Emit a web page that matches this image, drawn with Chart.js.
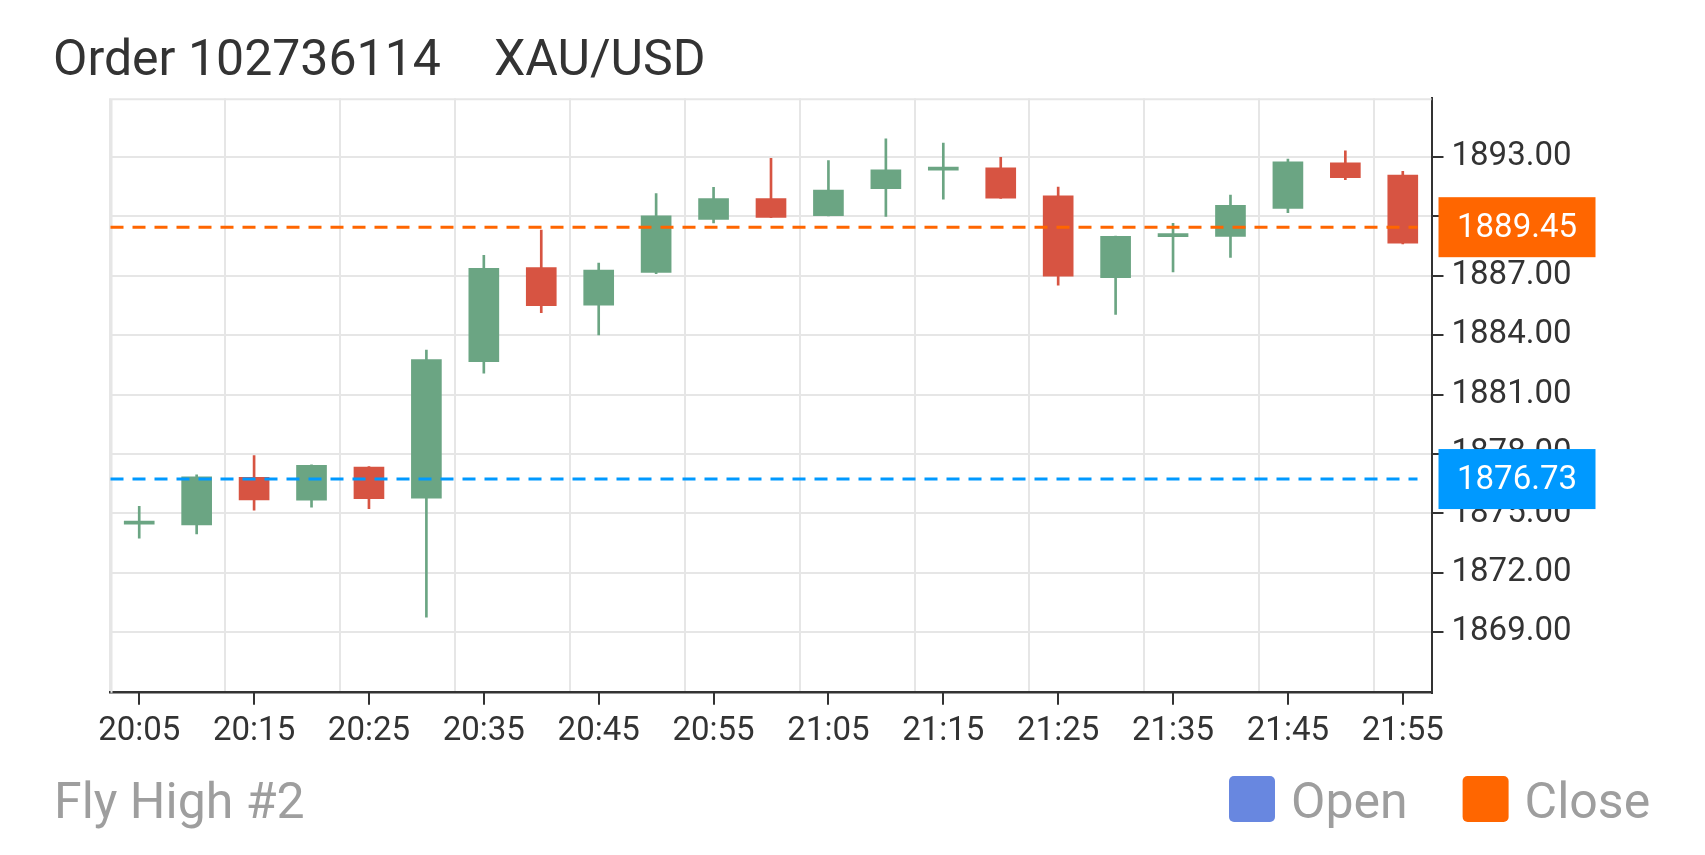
<!DOCTYPE html>
<html>
<head>
<meta charset="utf-8">
<title>Order 102736114 XAU/USD</title>
<script src="https://cdn.jsdelivr.net/npm/chart.js@4.4.1/dist/chart.umd.min.js"></script>
<style>
  html, body { margin: 0; padding: 0; background: #fff; }
  #wrap { width: 1705px; height: 855px; }
</style>
</head>
<body>
<div id="wrap"><canvas id="candles" width="1705" height="855"></canvas></div>
<script>
// 5 minute candles, XAU/USD
const times = ['20:05', '20:10', '20:15', '20:20', '20:25', '20:30', '20:35', '20:40', '20:45', '20:50', '20:55', '21:00',
               '21:05', '21:10', '21:15', '21:20', '21:25', '21:30', '21:35', '21:40', '21:45', '21:50', '21:55'];
const opens  = [1874.45, 1874.41, 1876.82, 1875.66, 1877.34, 1875.77, 1882.66, 1887.41, 1885.51, 1887.17, 1889.84, 1890.90,
                1890.03, 1891.39, 1892.33, 1892.45, 1891.04, 1886.90, 1888.97, 1888.99, 1890.40, 1892.70, 1892.08];
const closes = [1874.48, 1876.84, 1875.68, 1877.42, 1875.74, 1882.77, 1887.37, 1885.49, 1887.29, 1890.03, 1890.90, 1889.95,
                1891.32, 1892.35, 1892.36, 1890.92, 1886.98, 1888.99, 1889.00, 1890.55, 1892.75, 1891.95, 1888.64];
const highs  = [1875.35, 1876.94, 1877.92, 1877.45, 1877.36, 1883.24, 1888.03, 1889.30, 1887.64, 1891.15, 1891.46, 1892.93,
                1892.81, 1893.91, 1893.70, 1892.98, 1891.48, 1889.00, 1889.64, 1891.07, 1892.89, 1893.31, 1892.27];
const lows   = [1873.75, 1873.96, 1875.16, 1875.31, 1875.24, 1869.76, 1882.08, 1885.13, 1884.01, 1887.10, 1889.67, 1889.93,
                1890.02, 1889.99, 1890.86, 1890.90, 1886.52, 1885.05, 1887.19, 1887.93, 1890.18, 1891.85, 1888.60];
const priceTicks = [1869, 1872, 1875, 1878, 1881, 1884, 1887, 1890, 1893];

const openPrice = 1876.73;
const closePrice = 1889.45;
const orderTitle = 'Order 102736114';
const symbol = 'XAU/USD';
const footerText = 'Fly High #2';
const legendLabels = ['Open', 'Close'];

const UP = '#6ba583';
const DOWN = '#d75442';
const OPEN_COLOR = '#0099ff';
const CLOSE_COLOR = '#ff6600';
const LEGEND_COLORS = ['#6887e0', '#ff6600'];
const GRID = '#e6e6e6';
const DARK = '#333333';
const FONT = 'Roboto';

const candleColors = opens.map((o, i) => closes[i] >= o ? UP : DOWN);

function priceTag(ctx, area, y, price, color) {
    const py = y.getPixelForValue(price);
    ctx.fillStyle = color;
    ctx.fillRect(area.right + 7, py - 30, 157, 60);
    ctx.fillStyle = '#fff';
    ctx.font = '33px ' + FONT;
    ctx.textAlign = 'center';
    ctx.textBaseline = 'middle';
    ctx.fillText(price.toFixed(2), area.right + 7 + 78.5, py + 2);
}

function dashLine(ctx, area, y, price, color) {
    const py = y.getPixelForValue(price);
    ctx.save();
    ctx.strokeStyle = color;
    ctx.lineWidth = 3;
    ctx.setLineDash([13, 9]);
    ctx.beginPath();
    ctx.moveTo(area.left, py);
    ctx.lineTo(area.right - 14, py);
    ctx.stroke();
    ctx.restore();
}

const orderPlugin = {
    id: 'orderPlugin',
    beforeDatasetsDraw(chart) {
        const { ctx, chartArea: a } = chart;
        ctx.save();
        ctx.strokeStyle = GRID;
        ctx.lineWidth = 2;
        ctx.beginPath();
        ctx.moveTo(a.left + 1, a.bottom);
        ctx.lineTo(a.left + 1, a.top + 1);
        ctx.lineTo(a.right, a.top + 1);
        ctx.stroke();
        ctx.restore();
    },
    afterDatasetsDraw(chart) {
        const { ctx, chartArea: a, scales } = chart;
        dashLine(ctx, a, scales.y, closePrice, CLOSE_COLOR);
        dashLine(ctx, a, scales.y, openPrice, OPEN_COLOR);
    },
    afterDraw(chart) {
        const { ctx, chartArea: a, scales } = chart;
        ctx.save();

        // tick marks under the labelled candles
        ctx.strokeStyle = DARK;
        ctx.lineWidth = 2;
        scales.x.ticks.forEach((t, i) => {
            if (i % 2 !== 0) return;
            const px = Math.round(scales.x.getPixelForTick(i));
            ctx.beginPath();
            ctx.moveTo(px, a.bottom);
            ctx.lineTo(px, a.bottom + 12);
            ctx.stroke();
        });

        priceTag(ctx, a, scales.y, closePrice, CLOSE_COLOR);
        priceTag(ctx, a, scales.y, openPrice, OPEN_COLOR);

        // header
        ctx.textAlign = 'left';
        ctx.textBaseline = 'alphabetic';
        ctx.fillStyle = DARK;
        ctx.font = '50px ' + FONT;
        ctx.fillText(orderTitle, 53, 74.5);
        ctx.fillText(symbol, 494, 74.5);

        // footer + legend
        ctx.fillStyle = '#9e9e9e';
        ctx.fillText(footerText, 54, 818);
        let x = 1229;
        legendLabels.forEach((label, i) => {
            ctx.fillStyle = LEGEND_COLORS[i];
            ctx.beginPath();
            ctx.roundRect(x, 776, 46, 46, 5);
            ctx.fill();
            ctx.fillStyle = '#9e9e9e';
            ctx.fillText(label, x + 62, 818);
            x += 62 + ctx.measureText(label).width + 55;
        });
        ctx.restore();
    }
};

function drawChart() {
    const ctx = document.getElementById('candles').getContext('2d');
    new Chart(ctx, {
        type: 'bar',
        data: {
            labels: times,
            datasets: [
                {
                    label: 'body',
                    data: opens.map((o, i) => [o, closes[i]]),
                    backgroundColor: candleColors,
                    barThickness: 30,
                    minBarLength: 3,
                    grouped: false
                },
                {
                    label: 'wick',
                    data: lows.map((l, i) => [l, highs[i]]),
                    backgroundColor: candleColors,
                    barThickness: 2,
                    grouped: false
                }
            ]
        },
        options: {
            responsive: false,
            animation: false,
            layout: { padding: { left: 110.5, top: 98.3, right: 0, bottom: 102.3 } },
            plugins: {
                legend: { display: false },
                title: { display: false },
                tooltip: { enabled: false }
            },
            scales: {
                x: {
                    offset: true,
                    afterFit: s => { s.height = 60; },
                    grid: {
                        offset: true,
                        drawTicks: false,
                        lineWidth: 2,
                        color: c => (c.index % 2 === 0 ? GRID : 'transparent')
                    },
                    border: { color: DARK, width: 2.5 },
                    ticks: {
                        autoSkip: false,
                        maxRotation: 0,
                        padding: 19,
                        color: DARK,
                        font: { family: FONT, size: 33 },
                        callback: function (value, index) {
                            return index % 2 === 0 ? this.getLabelForValue(value) : '';
                        }
                    }
                },
                y: {
                    position: 'right',
                    min: 1865.94,
                    max: 1895.96,
                    beginAtZero: false,
                    afterBuildTicks: s => { s.ticks = priceTicks.map(v => ({ value: v })); },
                    afterFit: s => { s.width = 273.5; },
                    grid: {
                        color: GRID,
                        lineWidth: 2,
                        tickColor: DARK,
                        tickWidth: 2,
                        tickLength: 12
                    },
                    border: { color: DARK, width: 2 },
                    ticks: {
                        padding: 8,
                        color: DARK,
                        font: { family: FONT, size: 33 },
                        callback: v => Number(v).toFixed(2)
                    }
                }
            }
        },
        plugins: [orderPlugin]
    });
}

document.fonts.load('50px Roboto').then(drawChart, drawChart);
</script>
</body>
</html>
